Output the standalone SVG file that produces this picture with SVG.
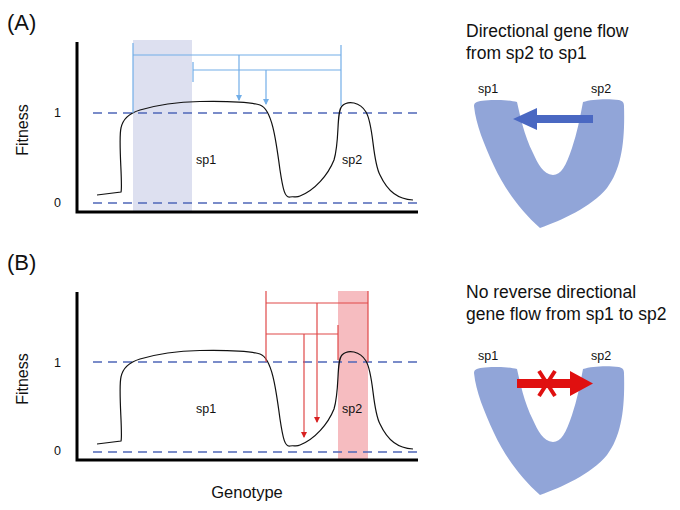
<svg xmlns="http://www.w3.org/2000/svg" width="680" height="510" viewBox="0 0 680 510">
<defs>
<style>
text{font-family:"Liberation Sans","Open Sans",Arial,sans-serif;fill:#111}
.lbl{font-size:12.5px}
.tick{font-size:12.5px}
.ax{font-size:16px}
.ttl{font-size:17.5px}
.pan{font-size:22px}
.axis{stroke:#000;stroke-width:3;fill:none}
.dash{stroke:#4f67b8;stroke-width:1.5;stroke-dasharray:9,6;fill:none}
.curve{stroke:#111;stroke-width:1.2;fill:none}
.blue{stroke:#72aee8;stroke-width:1.2;fill:none}
.red{stroke:#e04848;stroke-width:1.2;fill:none}
.ushape{fill:#91a5d8}
</style>
<marker id="ab" markerWidth="6" markerHeight="6" refX="5" refY="3" orient="auto" markerUnits="userSpaceOnUse"><path d="M0,0 L6,3 L0,6 z" fill="#72aee8"/></marker>
<marker id="ar" markerWidth="6" markerHeight="6" refX="5" refY="3" orient="auto" markerUnits="userSpaceOnUse"><path d="M0,0 L6,3 L0,6 z" fill="#d82020"/></marker>
<path id="fitcurve" d="M97,195 L121,192 C123,185 118,140 121,128 C123,118 130,113 140,110 C160,104 180,102 200,101.5 C230,101 250,102 260,105 C272,109 276,140 280,170 C283,190 285,198 290,197 C294,196 296,198 300,196 C315,190 328,175 334,160 C340,140 336,112 342,106 C348,100 360,102 366,112 C374,125 372,160 380,175 C388,192 398,199 413,200"/>
<path id="ushp" d="M474,106 C474,102 478,101 485,100.5 C498,99.5 510,100 517,102 C520,115 524,135 533,153 C538,164 543,174 553,175 C561,175 566,166 572,148 C577,133 580,118 583,102 C592,99 608,98.5 619,100 C623,101 624,103 624,106 C625,140 622,168 607,188 C590,208 562,220 540,228 C522,212 505,190 494,166 C484,144 476,125 474,106 z"/>
</defs>

<g id="panelA">
<text class="pan" x="7" y="30">(A)</text>
<rect id="shadeA" x="133" y="40" width="59" height="172" fill="#dde0f0"/>
<g id="axesA">
<path class="axis" d="M77,42 L77,212 L418,212"/>
<line class="dash" x1="93" y1="113" x2="418" y2="113"/>
<line class="dash" x1="93" y1="203" x2="418" y2="203"/>
<text class="tick" x="54" y="117">1</text>
<text class="tick" x="54" y="207">0</text>
<text class="ax" x="28" y="130" transform="rotate(-90 28 130)" text-anchor="middle">Fitness</text>
</g>
<use id="curveA" href="#fitcurve" class="curve"/>
<text id="sp1A" class="lbl" x="196" y="164">sp1</text>
<text id="sp2A" class="lbl" x="342" y="164">sp2</text>
</g>

<g id="connectorsA">
<line class="blue" x1="133" y1="43" x2="133" y2="113"/>
<line class="blue" x1="133" y1="55" x2="341" y2="55"/>
<line class="blue" x1="341" y1="45" x2="341" y2="106"/>
<line class="blue" x1="193" y1="70" x2="341" y2="70"/>
<line class="blue" x1="193" y1="62" x2="193" y2="82"/>
<line class="blue" x1="239" y1="55" x2="239" y2="100" marker-end="url(#ab)"/>
<line class="blue" x1="266" y1="70" x2="266" y2="104" marker-end="url(#ab)"/>
</g>

<g id="panelA_right">
<text class="ttl" x="466" y="37">Directional gene flow</text>
<text class="ttl" x="466" y="59">from sp2 to sp1</text>
<g id="uA"><use href="#ushp" class="ushape"/></g>
<text class="lbl" x="478" y="93">sp1</text>
<text class="lbl" x="591" y="93">sp2</text>
<path id="arrowA" d="M593,115 L537,115 L537,108 L513,119 L537,130 L537,123 L593,123 z" fill="#4a68c2"/>
</g>

<g id="panelB">
<text class="pan" x="7" y="270">(B)</text>
<rect id="shadeB" x="338" y="291" width="30" height="169" fill="#f6bcc0"/>
<g id="axesB">
<path class="axis" d="M77,292 L77,460 L418,460"/>
<line class="dash" x1="93" y1="362" x2="418" y2="362"/>
<line class="dash" x1="93" y1="452" x2="418" y2="452"/>
<text class="tick" x="54" y="367">1</text>
<text class="tick" x="54" y="455">0</text>
<text class="ax" x="28" y="379" transform="rotate(-90 28 379)" text-anchor="middle">Fitness</text>
<text x="247" y="498" text-anchor="middle" style="font-size:16.5px">Genotype</text>
</g>
<use id="curveB" href="#fitcurve" class="curve" transform="translate(0,249)"/>
<text id="sp1B" class="lbl" x="196" y="413">sp1</text>
<text id="sp2B" class="lbl" x="342" y="413">sp2</text>
</g>

<g id="connectorsB">
<line class="red" x1="266" y1="291" x2="266" y2="362"/>
<line class="red" x1="368" y1="291" x2="368" y2="362"/>
<line class="red" x1="266" y1="303" x2="368" y2="303"/>
<line class="red" x1="266" y1="334" x2="338" y2="334"/>
<line class="red" x1="338" y1="325" x2="338" y2="360"/>
<line class="red" x1="317" y1="303" x2="317" y2="422" marker-end="url(#ar)"/>
<line class="red" x1="304" y1="334" x2="304" y2="437" marker-end="url(#ar)"/>
</g>

<g id="panelB_right">
<text class="ttl" x="466" y="298">No reverse directional</text>
<text class="ttl" x="466" y="320">gene flow from sp1 to sp2</text>
<g id="uB"><use href="#ushp" class="ushape" transform="translate(0,267)"/></g>
<text class="lbl" x="478" y="360">sp1</text>
<text class="lbl" x="591" y="360">sp2</text>
<path id="arrowB" d="M517,379 L570,379 L570,371 L593,383.5 L570,396 L570,388 L517,388 z" fill="#e01010"/>
<path id="crossB" d="M539,371 L555,396 M555,371 L539,396" stroke="#e01010" stroke-width="4" fill="none"/>
</g>
</svg>
